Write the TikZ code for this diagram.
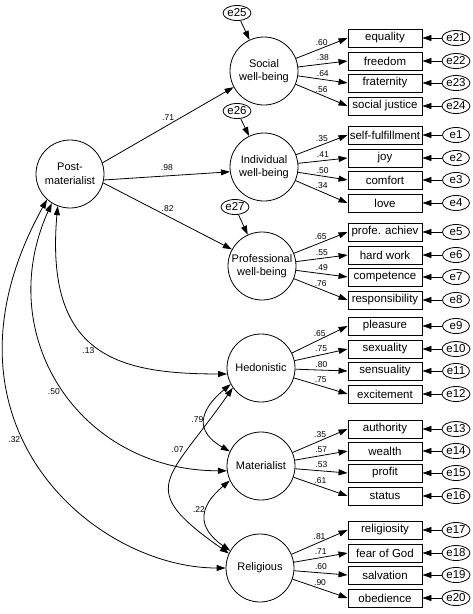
\documentclass[tikz,border=0pt]{standalone}
\usepackage{fontspec}
\setmainfont{Liberation Sans}
\usetikzlibrary{arrows.meta, shapes.geometric}
\tikzset{
  latent/.style={draw, circle, line width=0.8pt, minimum size=68pt, inner sep=0pt, align=center, font=\fontsize{11}{13.5}\selectfont},
  obs/.style={draw, rectangle, line width=0.9pt, minimum width=74pt, minimum height=18pt, inner sep=1pt, font=\fontsize{11.5}{12}\selectfont},
  err/.style={draw, ellipse, line width=0.8pt, minimum width=27pt, minimum height=15pt, inner sep=0.3pt, font=\fontsize{11.5}{12}\selectfont},
  coef/.style={font=\fontsize{8.5}{9}\selectfont, inner sep=1.5pt},
  reg/.style={-{Triangle[length=9pt,width=6pt]}, line width=0.8pt},
  cov/.style={{Triangle[length=9pt,width=6pt]}-{Triangle[length=9pt,width=6pt]}, line width=0.8pt},
}
\begin{document}
\begin{tikzpicture}[x=1pt, y=-1pt]
  \useasboundingbox (0,0) rectangle (472,614);
  % latent variables
  \node[latent] (post) at (70,174) {Post-\\materialist};
  \node[latent] (soc) at (264,71) {Social\\well-being};
  \node[latent] (ind) at (264,167) {Individual\\well-being};
  \node[latent] (prof) at (262,266) {Professional\\well-being};
  \node[latent] (hed) at (261,368) {Hedonistic};
  \node[latent] (mat) at (261,466) {Materialist};
  \node[latent] (rel) at (260,568) {Religious};
  % disturbances
  \node[err] (e25) at (237,13) {e25};
  \node[err] (e26) at (237,111) {e26};
  \node[err] (e27) at (235,207) {e27};
  \foreach \eid/\lat in {e25/soc, e26/ind, e27/prof}
    \draw[reg] (\eid) -- (\lat);
  % structural paths
  \draw[reg] (post.19) -- (soc.208) node[coef, pos=.5, above=3pt] {.71};
  \draw[reg] (post.350) -- (ind.188) node[coef, pos=.5, above=3pt] {.98};
  \draw[reg] (post.345) -- (prof.151) node[coef, pos=.5, above=3pt] {.82};
  % indicators with their errors
  \foreach \lat/\y/\txt/\eid/\val in {
      soc/38/equality/e21/.60, soc/61/freedom/e22/.38, soc/83/fraternity/e23/.64, soc/106/social justice/e24/.56,
      ind/135/self-fulfillment/e1/.35, ind/158/joy/e2/.41, ind/180/comfort/e3/.50, ind/203/love/e4/.34,
      prof/232/profe. achiev/e5/.65, prof/255/hard work/e6/.55, prof/277/competence/e7/.49, prof/300/responsibility/e8/.76,
      hed/326/pleasure/e9/.65, hed/349/sexuality/e10/.75, hed/371/sensuality/e11/.80, hed/394/excitement/e12/.75,
      mat/429/authority/e13/.35, mat/451/wealth/e14/.57, mat/473/profit/e15/.53, mat/496/status/e16/.61,
      rel/530/religiosity/e17/.81, rel/553/fear of God/e18/.71, rel/575/salvation/e19/.60, rel/598/obedience/e20/.90}{
    \node[obs] (b\eid) at (385,\y) {\txt};
    \node[err] (\eid) at (456,\y) {\eid};
    \draw[reg] (\eid) -- (b\eid);
    \draw[reg] (\lat) -- (b\eid.west) node[coef, pos=.5, above=1pt] {\val};
  }
  % covariances
  \draw[cov] (post.228) .. controls +(241:255pt) and +(180:132pt) .. (rel.180) node[coef, pos=.42, below left] {.32};
  \draw[cov] (post.238) .. controls +(245.7:146pt) and +(180:147pt) .. (mat.188) node[coef, pos=.5, below left] {.50};
  \draw[cov] (post.249) .. controls +(265:150pt) and +(180:110pt) .. (hed.190) node[coef, pos=.5, below left] {.13};
  \draw[cov] (hed.208) .. controls +(220:41pt) and +(150:41pt) .. (mat.155) node[coef, pos=.5, left] {.79};
  \draw[cov] (mat.205) .. controls +(220:41pt) and +(145:41pt) .. (rel.150) node[coef, pos=.4, left] {.22};
  \draw[cov] (hed.215) .. controls +(235:115pt) and +(145:115pt) .. (rel.155) node[coef, pos=.28, left=2pt] {.07};
\end{tikzpicture}
\end{document}
